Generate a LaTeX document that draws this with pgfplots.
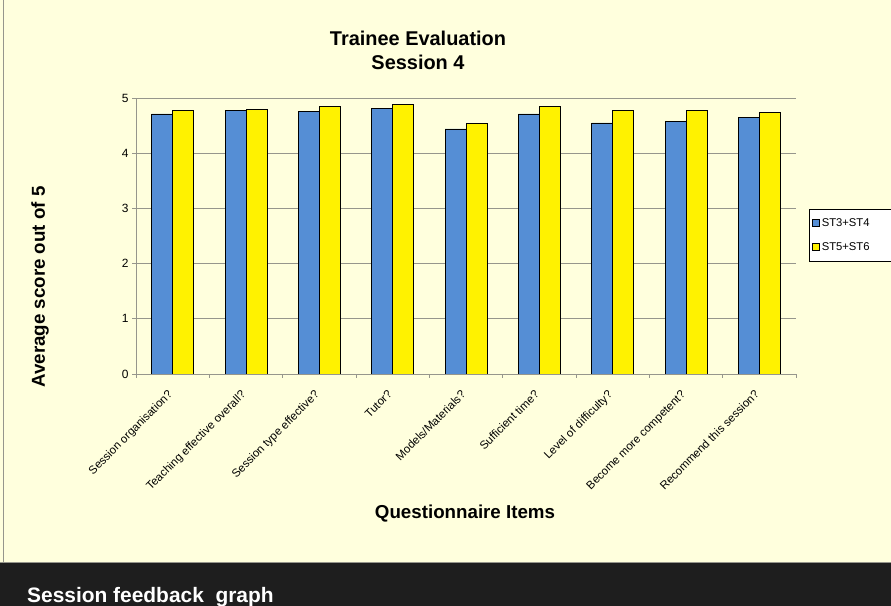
\documentclass[border=0pt]{standalone}
\usepackage{pgfplots}
\pgfplotsset{compat=1.18}
\usepackage{fontspec}
\setmainfont{Liberation Sans}
\definecolor{bgy}{RGB}{255,255,221}
\definecolor{barblue}{RGB}{85,142,213}
\definecolor{gridc}{RGB}{150,150,140}
\definecolor{band}{RGB}{30,30,30}
\begin{document}
\begin{tikzpicture}[x=1bp,y=1bp]
\useasboundingbox (0,0) rectangle (891,606);
\fill[bgy] (0,0) rectangle (891,606);
\fill[band] (0,0) rectangle (891,43);
\draw[gridc,line width=0.8bp] (0,43.5) -- (891,43.5);
\draw[gridc,line width=0.8bp] (3.5,43) -- (3.5,606);
\node[anchor=base west,text=white,font=\bfseries\fontsize{21}{24}\selectfont,inner sep=0pt] at (27,3.5) {Session feedback\ \ graph};
\node[anchor=base,font=\bfseries\fontsize{20}{22}\selectfont,inner sep=0pt] at (418,560) {Trainee Evaluation};
\node[anchor=base,font=\bfseries\fontsize{20}{22}\selectfont,inner sep=0pt] at (418,536) {Session 4};
\node[font=\bfseries\fontsize{18.8}{22}\selectfont,rotate=90,inner sep=0pt] at (40,319) {Average score out of 5};
\node[font=\bfseries\fontsize{18.8}{22}\selectfont,inner sep=0pt] at (465,92) {Questionnaire Items};
\begin{axis}[
  at={(136bp,232bp)}, anchor=south west,
  scale only axis, width=660bp, height=276bp,
  ybar=0pt, bar width=21bp,
  xmin=-0.5, xmax=8.5, ymin=0, ymax=5,
  xtick={0,...,8},
  xticklabels={Session organisation?,Teaching effective overall?,Session type effective?,Tutor?,Models/Materials?,Sufficient time?,Level of difficulty?,Become more competent?,Recommend this session?},
  minor xtick={-0.5,0.5,...,8.5},
  major x tick style={draw=none},
  minor tick length=4bp,
  ytick={0,1,2,3,4,5},
  major tick length=4bp,
  tick align=outside,
  tick style={gridc, line width=0.8bp},
  ymajorgrids, grid style={gridc,line width=0.8bp},
  axis x line*=bottom, axis y line*=left,
  axis line style={gridc,line width=0.8bp,-},
  /pgf/number format/assume math mode=true,
  yticklabel style={font=\fontsize{12}{14}\selectfont},
  xticklabel style={font=\fontsize{11.5}{13}\selectfont, rotate=45, anchor=north east, inner sep=1bp, xshift=-11bp, yshift=-3bp},
  legend style={at={(1.0197,0.598)}, anchor=north west, fill=white, draw=black, line width=0.5bp, font=\fontsize{11.3}{13}\selectfont, row sep=11bp, inner ysep=7bp, inner xsep=3bp, text width=66bp},
  legend image code/.code={\draw[#1,line width=0.5bp] (0bp,-3.5bp) rectangle (7bp,3.5bp);},
  legend cell align=left,
]
\addplot[fill=barblue, draw=black, line width=0.6bp] coordinates {(0,4.71) (1,4.78) (2,4.75) (3,4.81) (4,4.44) (5,4.71) (6,4.55) (7,4.58) (8,4.65)};
\addplot[fill=yellow, draw=black, line width=0.6bp] coordinates {(0,4.78) (1,4.80) (2,4.85) (3,4.88) (4,4.54) (5,4.85) (6,4.78) (7,4.78) (8,4.74)};
\legend{ST3+ST4,ST5+ST6}
\end{axis}
\end{tikzpicture}
\end{document}
